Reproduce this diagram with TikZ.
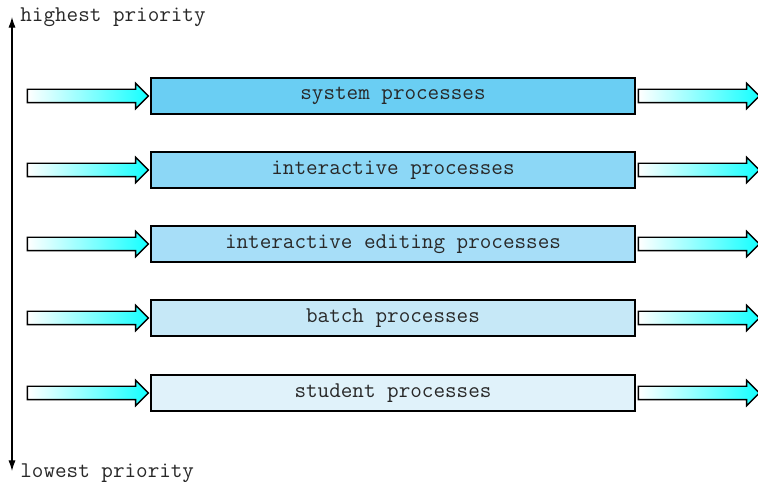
\documentclass[tikz,border=0pt]{standalone}
\usepackage{fontspec}
\usetikzlibrary{arrows.meta, positioning, shapes.arrows}
\definecolor{sysc}{RGB}{106,206,243}
\definecolor{interc}{RGB}{140,215,246}
\definecolor{editc}{RGB}{167,222,248}
\definecolor{batchc}{RGB}{198,232,247}
\definecolor{studc}{RGB}{224,242,250}
\definecolor{flowc}{RGB}{20,255,255}
\definecolor{inkc}{RGB}{40,40,40}
\tikzset{
  queue/.style={
    rectangle, draw=black, line width=0.85pt,
    minimum width=9.68cm, minimum height=0.72cm, inner sep=0pt,
    font=\fontsize{12.8pt}{14pt}\ttfamily, text=inkc
  },
  flow/.style={
    single arrow, draw=black, line width=0.8pt,
    left color=white, right color=flowc,
    minimum height=2.42cm, inner xsep=0pt, inner ysep=0.12cm,
    single arrow head extend=0.12cm, single arrow tip angle=90
  },
  prio/.style={font=\fontsize{12.8pt}{14pt}\ttfamily, text=inkc, anchor=west, inner sep=0pt},
  axis/.style={{Latex[length=6pt,width=4pt]}-{Latex[length=6pt,width=4pt]}, line width=0.6pt},
}
\begin{document}
\begin{tikzpicture}[x=0.02cm, y=-0.02cm]
  \useasboundingbox (0,0) rectangle (758,482);

  % priority axis
  \coordinate (top) at (12,17);
  \coordinate (bottom) at (12,471);
  \draw[axis] (top) -- (bottom);
  \node[prio] (hi) at (20,17) {highest priority};
  \node[prio] (lo) at (20,473) {lowest priority};

  % one queue per class of process
  \node[queue, fill=sysc]   (sys)   at (393,96)  {system processes};
  \node[queue, fill=interc] (inter) at (393,170) {interactive processes};
  \node[queue, fill=editc]  (edit)  at (393,244) {interactive editing processes};
  \node[queue, fill=batchc] (batch) at (393,318) {batch processes};
  \node[queue, fill=studc]  (stud)  at (393,393) {student processes};

  % jobs in and out
  \node[flow, left=0.02cm of sys]    (sysin)    {};
  \node[flow, right=0.04cm of sys]   (sysout)   {};
  \node[flow, left=0.02cm of inter]  (interin)  {};
  \node[flow, right=0.04cm of inter] (interout) {};
  \node[flow, left=0.02cm of edit]   (editin)   {};
  \node[flow, right=0.04cm of edit]  (editout)  {};
  \node[flow, left=0.02cm of batch]  (batchin)  {};
  \node[flow, right=0.04cm of batch] (batchout) {};
  \node[flow, left=0.02cm of stud]   (studin)   {};
  \node[flow, right=0.04cm of stud]  (studout)  {};
\end{tikzpicture}
\end{document}
